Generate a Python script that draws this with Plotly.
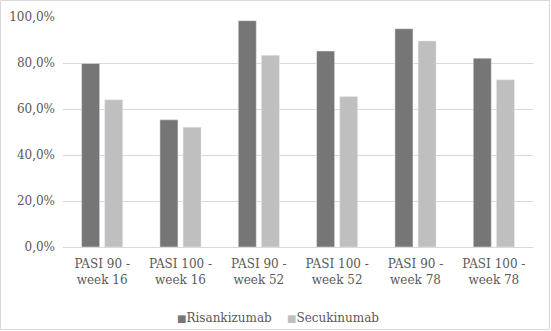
import plotly.graph_objects as go

categories = ["PASI 90 -<br>week 16", "PASI 100 -<br>week 16", "PASI 90 -<br>week 52",
              "PASI 100 -<br>week 52", "PASI 90 -<br>week 78", "PASI 100 -<br>week 78"]
risankizumab = [79.8, 55.3, 98.4, 85.2, 94.9, 82.1]
secukinumab = [64.0, 52.1, 83.4, 65.4, 89.6, 72.7]
tick_vals = [0, 20, 40, 60, 80, 100]
tick_text = ["0,0%", "20,0%", "40,0%", "60,0%", "80,0%", "100,0%"]
series_names = ["Risankizumab", "Secukinumab"]
series_colors = ["#767676", "#bfbfbf"]

W, H = 551, 331
ml, mr, mt, mb = 63, 18, 17, 84
pw, ph = W - ml - mr, H - mt - mb

font = dict(family="DejaVu Serif", size=12, color="#595959")

fig = go.Figure()
for name, vals, col in zip(series_names, [risankizumab, secukinumab], series_colors):
    fig.add_trace(go.Bar(x=categories, y=vals, name=name, marker_color=col, showlegend=False))

legend_text = "    ".join(
    f"<span style='color:{c};font-size:10px'>■</span>{n}" for n, c in zip(series_names, series_colors))

fig.update_layout(
    width=W, height=H,
    margin=dict(l=ml, r=mr, t=mt, b=mb, autoexpand=False),
    paper_bgcolor="white", plot_bgcolor="white",
    barmode="group", bargap=0.41, bargroupgap=0.22,
    font=font,
    showlegend=False,
    xaxis=dict(showgrid=False, showline=True, linecolor="#d9d9d9", ticks="",
               tickfont=font, automargin=False, ticklabelstandoff=6),
    yaxis=dict(range=[0, 100], tickvals=tick_vals, ticktext=tick_text,
               showgrid=True, gridcolor="#d9d9d9", zeroline=False, showline=False,
               tickfont=font, ticks="", automargin=False, ticklabelstandoff=7),
    annotations=[dict(text=legend_text, xref="paper", yref="paper",
                      x=(277.5 - ml) / pw, y=-(318 - (mt + ph)) / ph,
                      xanchor="center", yanchor="middle", showarrow=False, font=font)],
    shapes=[dict(type="rect", xref="paper", yref="paper",
                 x0=(-ml + 0.5) / pw, x1=1 + (mr - 1.5) / pw,
                 y0=(-mb + 1.5) / ph, y1=1 + (mt - 0.5) / ph,
                 line=dict(color="#d9d9d9", width=1), fillcolor="rgba(0,0,0,0)")],
)

fig.write_html("out.html", config={"displayModeBar": False},
               post_script="document.body.style.margin='0';document.body.style.padding='0';")
